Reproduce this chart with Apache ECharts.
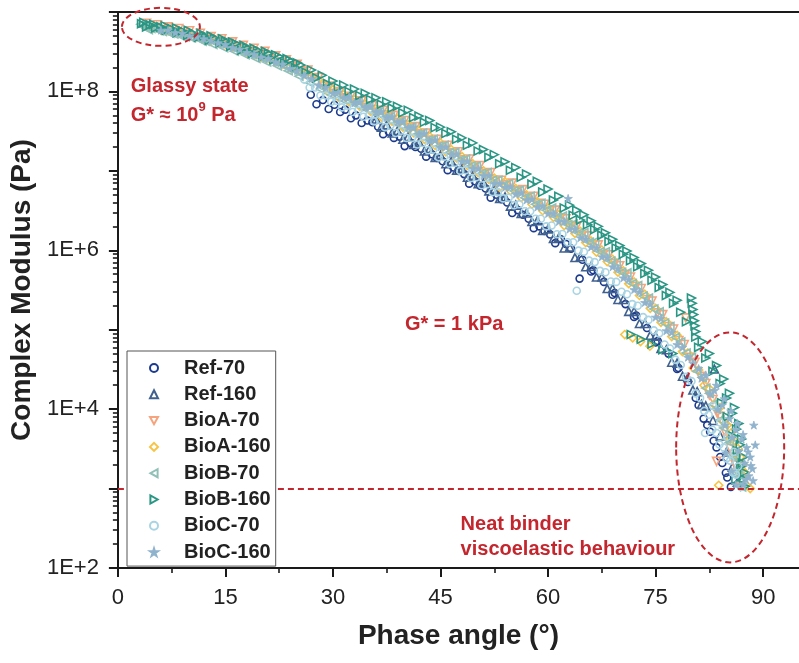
<!DOCTYPE html>
<html><head><meta charset="utf-8">
<script src="https://cdn.jsdelivr.net/npm/echarts@6/dist/echarts.min.js"></script>
<style>html,body{margin:0;padding:0;background:#fff}#c{width:799px;height:663px}</style>
</head><body><div id="c"></div>
<script>
// ---- data: [phase angle (deg), complex modulus G* (Pa)] ----
const seriesNames = ['Ref-70','Ref-160','BioA-70','BioA-160','BioB-70','BioB-160','BioC-70','BioC-160'];
const ref70 = [[26.9,9.1e7],[28.6,7.8e7],[30.2,6.8e7],[31.7,5.9e7],[33.2,5.0e7],[34.8,4.3e7],[35.5,4.1e7],[36.3,3.6e7],[37.8,3.1e7],[39.3,2.7e7],[40.8,2.25e7],[41.5,2.0e7],[42.3,1.9e7],[43.8,1.62e7],[44.5,1.45e7],[45.3,1.32e7],[46.8,1.1e7],[47.5,1.0e7],[48.3,9.1e6],[49.8,7.4e6],[50.5,6.5e6],[51.3,6.0e6],[52.8,5.0e6],[53.5,4.4e6],[54.3,4.0e6],[55.8,3.2e6],[56.5,2.8e6],[57.3,2.5e6],[58.8,2.0e6],[59.5,1.75e6],[60.3,1.58e6],[61.8,1.38e6],[62.5,1.2e6],[63.2,1.05e6],[64.4,4.4e5],[64.8,7.6e5],[66.3,5.6e5],[67.8,4.0e5],[69.3,2.9e5],[70.8,2.1e5],[72.3,1.51e5],[73.8,1.05e5],[75.3,7.2e4],[76.8,5.0e4],[78.2,3.3e4],[79.5,2.2e4],[80.6,1.38e4],[81.7,7.6e3],[82.6,5.2e3],[83.5,3.3e3],[84.3,2.1e3],[85.0,1.38e3],[85.5,1.05e3],
  [27.7,6.9e7],[29.4,6.0e7],[31,5.5e7],[32.5,4.6e7],[34,4.0e7],[37,2.9e7],[38.5,2.6e7],[40,2.05e7],[43,1.51e7],[46,1.02e7],[49,6.9e6],[52,4.6e6],[55,2.95e6],[58,1.9e6],[61,1.23e6],[66,5.4e5],[69,2.75e5],[72,1.45e5],[75,6.9e4],[78,3.2e4],[81,1.12e4],[82.2,6.3e3],[83.1,4.0e3],[84.0,2.5e3],[84.8,1.58e3]];
const ref160 = [[36,4.5e7],[37.5,3.8e7],[39,3.2e7],[40.5,2.7e7],[42,2.3e7],[43.5,1.9e7],[45,1.58e7],[46.5,1.32e7],[48,1.07e7],[49.5,8.7e6],[51,7.1e6],[52.5,5.8e6],[54,4.7e6],[55.5,3.7e6],[57,2.95e6],[58.5,2.35e6],[60,1.86e6],[61.5,1.45e6],[63,1.1e6],[64.5,8.3e5],[66,6.3e5],[67.5,4.6e5],[69,3.3e5],[70.5,2.4e5],[72,1.7e5],[73.5,1.2e5],[75,8.3e4],[76.5,5.6e4],[78,3.8e4],[79.5,2.5e4],[80.8,1.66e4],[82,1.1e4],[83.2,3.2e4],[83,7.2e3],[84,4.6e3],[84.9,2.9e3],[85.7,1.86e3],[86.4,1.2e3],
  [36.75,3.55e7],[38.25,3.0e7],[39.75,2.5e7],[41.25,2.15e7],[42.75,1.78e7],[44.25,1.48e7],[45.75,1.23e7],[47.25,1.02e7],[48.75,8.3e6],[50.25,6.9e6],[51.75,5.6e6],[53.25,4.5e6],[54.75,3.6e6],[56.25,2.9e6],[57.75,2.3e6],[59.25,1.78e6],[60.75,1.41e6],[62.25,1.07e6],[63.75,8.1e5],[65.25,6.2e5],[66.75,4.6e5],[68.25,3.3e5],[69.75,2.4e5],[71.25,1.7e5],[72.75,1.2e5],[74.25,8.5e4],[75.75,5.8e4],[77.25,3.9e4],[78.75,2.6e4],[80.2,1.74e4],[81.4,1.15e4]];
const bioA70 = [[4,7.2e8],[5.5,6.9e8],[7,6.5e8],[8.5,6.2e8],[10,5.8e8],[11.5,5.4e8],[13,4.9e8],[14.5,4.6e8],[16,4.2e8],[17.5,3.8e8],[19,3.5e8],[20.5,3.2e8],[22,2.8e8],[23.5,2.5e8],[25,2.2e8],[26.5,1.86e8],[28,1.5e8],[29.5,1.17e8],[31,1.0e8],[32.5,8.7e7],[34,7.6e7],[35.5,6.6e7],[37,5.8e7],[38.5,5.0e7],[40,4.3e7],[41.5,3.6e7],[43,3.0e7],[44.5,2.5e7],[46,2.1e7],[47.5,1.74e7],[49,1.41e7],[50.5,1.17e7],[52,9.5e6],[53.5,7.6e6],[55,7.0e6],[56.5,5.8e6],[58,4.8e6],[59.5,3.8e6],[61,3.2e6],[62.5,2.5e6],[64,2.0e6],[65.5,1.52e6],[67,1.17e6],[68.5,8.8e5],[70,6.4e5],[71.5,4.6e5],[73,3.3e5],[74.5,2.3e5],[76,1.55e5],[77.5,1.02e5],[79.2,1.41e5],[79,6.5e4],[80.5,3.9e4],[82,2.1e4],[83,1.32e4],[83.5,2.2e3],[84,8.1e3],[85,4.2e3],[85.8,2.5e3],[86.4,1.58e3],[86.8,1.07e3],
  [4.75,6.3e8],[6.25,6.0e8],[7.75,5.6e8],[9.25,5.2e8],[10.75,4.9e8],[12.25,4.6e8],[13.75,4.2e8],[15.25,3.9e8],[16.75,3.55e8],[18.25,3.2e8],[19.75,2.95e8],[21.25,2.6e8],[22.75,2.35e8],[24.25,2.1e8],[25.75,1.78e8],[27.25,1.48e8],[28.75,1.17e8],[30.25,9.5e7],[31.75,8.3e7],[33.25,7.2e7],[34.75,6.3e7],[36.25,5.5e7],[37.75,4.8e7],[39.25,4.1e7],[40.75,3.5e7],[42.25,2.95e7],[43.75,2.45e7],[45.25,2.05e7],[46.75,1.7e7],[48.25,1.38e7],[49.75,1.15e7],[51.25,9.3e6],[52.75,7.6e6],[54.25,6.7e6],[55.75,5.6e6],[57.25,4.7e6],[58.75,3.9e6],[60.25,3.1e6],[61.75,2.55e6],[63.25,2.05e6],[64.75,1.54e6],[66.25,1.18e6],[67.75,8.9e5],[69.25,6.8e5],[70.75,4.9e5],[72.25,3.5e5],[73.75,2.4e5],[75.25,1.63e5],[76.75,1.1e5],[78.25,7.3e4],[79.75,4.5e4],[81.25,2.6e4],[82.5,1.51e4],[83.6,8.9e3],[84.6,5.3e3],[85.4,3.2e3],[86.1,2.0e3]];
const bioA160 = [[5,6.3e8],[7,5.8e8],[9,5.4e8],[11,4.9e8],[13,4.4e8],[15,3.9e8],[17,3.4e8],[19,2.95e8],[21,2.6e8],[23,2.2e8],[25,1.86e8],[27,1.55e8],[28.5,1.26e8],[30,1.05e8],[31.5,9.1e7],[33,7.9e7],[34.5,6.9e7],[36,6.0e7],[37.5,5.1e7],[39,4.5e7],[40.5,3.8e7],[42,3.2e7],[43.5,2.7e7],[45,2.25e7],[46.5,1.86e7],[48,1.51e7],[49.5,1.23e7],[51,1.0e7],[52.5,8.1e6],[54,7.3e6],[55.5,6.0e6],[57,5.0e6],[58.5,4.1e6],[60,3.4e6],[61.5,2.8e6],[63,2.2e6],[64.5,1.73e6],[66,1.31e6],[67.5,1.01e6],[69,7.7e5],[70.5,5.5e5],[72,4.0e5],[73.5,2.8e5],[75,1.86e5],[76.5,1.26e5],[78,8.5e4],[70.7,8.7e4],[71.8,7.9e4],[72.9,7.1e4],[74.2,6.2e4],[79.5,5.1e4],[81,3.1e4],[82.5,1.8e4],[83.8,1.1e3],[84,1.05e4],[85,6.3e3],[86,4.0e3],[86.8,2.5e3],[87.5,1.58e3],[88.2,1.0e3],
  [6,5.9e8],[8,5.5e8],[10,5.0e8],[12,4.6e8],[14,4.1e8],[16,3.55e8],[18,3.1e8],[20,2.7e8],[22,2.35e8],[24,2.0e8],[26,1.66e8],[29.25,1.0e8],[30.75,8.5e7],[32.25,7.4e7],[33.75,6.5e7],[35.25,5.6e7],[36.75,4.8e7],[38.25,4.2e7],[39.75,3.55e7],[41.25,3.0e7],[42.75,2.5e7],[44.25,2.1e7],[45.75,1.74e7],[47.25,1.45e7],[48.75,1.17e7],[50.25,9.5e6],[51.75,7.8e6],[53.25,6.2e6],[54.75,5.6e6],[56.25,4.6e6],[57.75,3.8e6],[59.25,3.15e6],[60.75,2.6e6],[62.25,2.05e6],[63.75,1.63e6],[65.25,1.25e6],[66.75,9.5e5],[68.25,7.2e5],[69.75,5.3e5],[71.25,3.8e5],[72.75,2.7e5],[74.25,1.86e5],[75.75,1.24e5],[77.25,8.2e4],[78.75,5.3e4],[80.25,3.3e4],[81.75,2.0e4],[83.1,1.15e4],[84.3,7.1e3],[85.4,4.2e3],[86.3,2.6e3],[87.0,1.66e3],[87.6,1.12e3],
  [85.5,5.0e3],[86.5,3.2e3],[87.2,2.0e3]];
const bioB70 = [[3.5,6.6e8],[5,6.3e8],[6.5,5.9e8],[8,5.6e8],[9.5,5.2e8],[11,4.8e8],[12.5,4.5e8],[14,4.1e8],[15.5,3.7e8],[17,3.3e8],[18.5,3.0e8],[20,2.75e8],[21.5,2.45e8],[23,2.15e8],[24.5,1.86e8],[26,1.6e8],[27.5,1.32e8],[29,1.07e8],[30.5,9.5e7],[32,8.3e7],[33.5,7.4e7],[35,6.5e7],[36.5,5.6e7],[38,4.8e7],[39.5,4.2e7],[41,3.55e7],[42.5,3.0e7],[44,2.5e7],[45.5,2.1e7],[47,1.7e7],[48.5,1.41e7],[50,1.15e7],[51.5,9.5e6],[53,7.6e6],[54.5,6.9e6],[56,5.7e6],[57.5,4.8e6],[59,3.9e6],[60.5,3.4e6],[62,2.7e6],[63.5,2.15e6],[65,1.67e6],[66.5,1.29e6],[68,9.6e5],[69.5,7.1e5],[71,5.2e5],[72.5,3.6e5],[74,2.5e5],[75.5,1.68e5],[77,1.1e5],[78.5,7.0e4],[80,4.5e4],[81.5,2.5e4],[82.5,1.58e4],[83.5,1.0e4],[84.5,5.8e3],[85.3,3.8e3],[86,2.4e3],[86.6,1.5e3],[87,1.05e3],
  [4.25,6.0e8],[5.75,5.8e8],[7.25,5.4e8],[8.75,5.0e8],[10.25,4.7e8],[11.75,4.3e8],[13.25,3.9e8],[14.75,3.55e8],[16.25,3.2e8],[17.75,2.9e8],[19.25,2.6e8],[20.75,2.35e8],[22.25,2.1e8],[23.75,1.82e8],[25.25,1.55e8],[26.75,1.29e8],[28.25,1.07e8],[29.75,9.1e7],[31.25,7.9e7],[32.75,7.1e7],[34.25,6.2e7],[35.75,5.4e7],[37.25,4.7e7],[38.75,4.0e7],[40.25,3.4e7],[41.75,2.9e7],[43.25,2.45e7],[44.75,2.05e7],[46.25,1.7e7],[47.75,1.38e7],[49.25,1.15e7],[50.75,9.3e6],[52.25,7.6e6],[53.75,6.6e6],[55.25,5.6e6],[56.75,4.6e6],[58.25,3.8e6],[59.75,3.2e6],[61.25,2.6e6],[62.75,2.1e6],[64.25,1.65e6],[65.75,1.26e6],[67.25,9.6e5],[68.75,7.3e5],[70.25,5.3e5],[71.75,3.8e5],[73.25,2.65e5],[74.75,1.82e5],[76.25,1.21e5],[77.75,8.0e4],[79.25,5.1e4],[80.75,3.0e4],[82,1.84e4],[83,1.15e4],[84,7.3e3],[84.9,4.2e3],[85.7,2.6e3],[86.3,1.66e3],
  [3.2,7.0e8],[3.8,6.4e8],[4.6,6.2e8],[5.4,6.0e8],[6.2,5.7e8],[7,5.6e8],[7.8,5.3e8],[8.6,5.2e8],[9.4,4.9e8],[10.2,4.9e8],[11.4,4.5e8],[12.2,4.3e8],[13.8,4.0e8],[15,3.8e8],[16.2,3.5e8],[17.4,3.2e8],[18.8,2.9e8],[20.2,2.6e8],[21.8,2.35e8],[23.4,2.05e8],[25,1.75e8]];
const bioB160 = [[3.3,7.1e8],[4.5,6.9e8],[6,6.5e8],[7.5,6.2e8],[9,5.8e8],[10.5,5.4e8],[12,5.0e8],[13.5,4.7e8],[15,4.3e8],[16.5,4.0e8],[18,3.55e8],[19.5,3.3e8],[21,3.0e8],[22.5,2.75e8],[24,2.45e8],[25.5,2.15e8],[27,1.86e8],[28.5,1.6e8],[30,1.35e8],[31.5,1.2e8],[33,1.07e8],[34.5,9.5e7],[36,8.3e7],[37.5,7.4e7],[39,6.5e7],[40.5,5.8e7],[42,4.9e7],[43.5,4.3e7],[45,3.55e7],[46.5,3.1e7],[48,2.6e7],[49.5,2.25e7],[51,1.86e7],[52.5,1.6e7],[54,1.3e7],[55.5,1.1e7],[57,9.1e6],[58.5,7.4e6],[60,5.9e6],[61.5,4.8e6],[63,3.7e6],[64,3.2e6],[65,2.8e6],[66,2.35e6],[67,2.0e6],[68,1.66e6],[69,1.38e6],[70,1.15e6],[71,9.8e5],[72,8.1e5],[73,6.8e5],[74,5.6e5],[75,4.6e5],[76,3.7e5],[77,2.95e5],[78,2.35e5],[80.0,2.5e5],[80.1,2.15e5],[80.2,1.8e5],[80.3,1.55e5],[80.4,1.3e5],[80.5,1.12e5],[80.6,9.5e4],[80.6,8.1e4],[71.6,8.7e4],[73.0,7.6e4],[74.5,6.6e4],[76.0,5.6e4],[77.4,5.0e4],[81.5,7.1e4],[82.5,5.0e4],[83.5,3.55e4],[84.5,2.4e4],[85.3,1.58e4],[86.0,1.05e4],[86.6,6.6e3],[87.0,4.2e3],[87.3,2.5e3],[87.4,1.6e3],[87.5,1.07e3],
  [4,6.5e8],[5.25,6.3e8],[6.75,5.9e8],[8.25,5.5e8],[9.75,5.1e8],[11.25,4.8e8],[12.75,4.4e8],[14.25,4.1e8],[15.75,3.7e8],[17.25,3.3e8],[18.75,3.0e8],[20.25,2.75e8],[21.75,2.5e8],[23.25,2.3e8],[24.75,2.0e8],[26.25,1.74e8],[27.75,1.48e8],[29.25,1.26e8],[30.75,1.12e8],[32.25,1.0e8],[33.75,8.9e7],[35.25,7.9e7],[36.75,6.9e7],[38.25,6.2e7],[39.75,5.4e7],[41.25,4.7e7],[42.75,4.1e7],[44.25,3.5e7],[45.75,2.95e7],[47.25,2.5e7],[48.75,2.1e7],[50.25,1.78e7],[51.75,1.48e7],[53.25,1.23e7],[54.75,1.02e7],[56.25,8.3e6],[57.75,6.8e6],[59.25,5.4e6],[60.75,4.3e6],[62.25,3.4e6],[63.5,2.75e6],[64.5,2.4e6],[65.5,2.1e6],[66.5,1.82e6],[67.5,1.55e6],[68.5,1.29e6],[69.5,1.07e6],[70.5,8.9e5],[71.5,7.4e5],[72.5,6.2e5],[73.5,5.1e5],[74.5,4.2e5],[75.5,3.4e5],[76.5,2.7e5],[77.5,2.15e5],[78.5,1.66e5],[79.3,1.26e5],[81.0,6.0e4],[82.0,4.4e4],[83.0,3.0e4],[84.0,2.1e4],[84.9,1.38e4],[85.7,8.9e3],[86.3,5.6e3],[86.8,3.55e3],[87.1,2.1e3],[87.3,1.32e3],
  [3.6,7.4e8],[5,7.0e8],[6.6,6.7e8],[8.2,6.3e8],[9.8,5.9e8],[11.6,5.4e8],[13,5.0e8],[14.6,4.6e8],[16,4.2e8],[17.6,3.8e8],[19,3.5e8],[20.6,3.2e8],[22,2.9e8],[23.6,2.6e8],[25,2.3e8],
  [84.2,1.2e4],[85.0,8.0e3],[85.8,4.6e3],[86.4,3.0e3],[86.9,1.9e3],[86.2,1.3e3]];
const bioC70 = [[26,1.41e8],[27.5,1.12e8],[29,8.9e7],[30.5,7.6e7],[32,6.6e7],[33.5,5.8e7],[35,5.0e7],[36.5,4.4e7],[38,3.7e7],[39.5,3.2e7],[41,2.6e7],[42.5,2.25e7],[44,1.86e7],[45.5,1.51e7],[47,1.26e7],[48.5,1.02e7],[50,8.3e6],[51.5,6.8e6],[53,5.4e6],[54.5,4.6e6],[56,3.8e6],[57.5,3.1e6],[59,2.5e6],[60.5,2.05e6],[62,1.6e6],[64,3.1e5],[63.5,1.26e6],[65,9.6e5],[66.5,7.1e5],[68,5.3e5],[69.5,4.0e5],[71,2.8e5],[72.5,2.0e5],[74,1.33e5],[75.5,9.0e4],[77,5.8e4],[78.5,3.6e4],[80,2.25e4],[81.9,5.0e3],[81.2,1.38e4],[82.4,8.5e3],[83.5,5.0e3],[84.5,3.3e3],[85.4,2.25e3],[86.2,1.5e3],[86.9,1.05e3],
  [26.75,1.12e8],[28.25,8.9e7],[29.75,7.4e7],[31.25,6.3e7],[32.75,5.5e7],[34.25,4.8e7],[35.75,4.2e7],[37.25,3.55e7],[38.75,3.0e7],[40.25,2.6e7],[41.75,2.15e7],[43.25,1.82e7],[44.75,1.48e7],[46.25,1.23e7],[47.75,1.0e7],[49.25,8.1e6],[50.75,6.6e6],[52.25,5.4e6],[53.75,4.5e6],[55.25,3.7e6],[56.75,3.1e6],[58.25,2.5e6],[59.75,2.0e6],[61.25,1.59e6],[62.75,1.26e6],[64.25,9.9e5],[65.75,7.4e5],[67.25,5.5e5],[68.75,4.05e5],[70.25,3.0e5],[71.75,2.1e5],[73.25,1.44e5],[74.75,9.8e4],[76.25,6.5e4],[77.75,4.2e4],[79.25,2.55e4],[80.6,1.58e4],[81.8,9.5e3],[82.9,5.5e3],[83.9,3.6e3],[84.9,2.4e3],[85.8,1.58e3],
  [83.0,1.1e4],[84.0,6.8e3],[85.0,4.5e3],[85.9,2.9e3],[86.5,1.9e3]];
const bioC160 = [[6,5.9e8],[8,5.5e8],[10,5.0e8],[12,4.6e8],[14,4.1e8],[16,3.55e8],[18,3.1e8],[20,2.7e8],[22,2.35e8],[24,1.95e8],[26,1.6e8],[28,1.2e8],[30,9.5e7],[31.5,8.3e7],[33,7.2e7],[34.5,6.3e7],[36,5.5e7],[37.5,4.7e7],[39,4.1e7],[40.5,3.5e7],[42,2.9e7],[43.5,2.4e7],[45,2.0e7],[46.5,1.62e7],[48,1.32e7],[49.5,1.07e7],[51,8.7e6],[52.5,6.9e6],[54,6.2e6],[55.5,5.1e6],[57,4.3e6],[58.5,3.5e6],[60,2.9e6],[61.5,2.3e6],[62.8,4.5e6],[63,1.85e6],[64.5,1.44e6],[66,1.1e6],[67.5,8.3e5],[69,6.2e5],[70.5,4.5e5],[72,3.2e5],[73.5,2.2e5],[75,1.44e5],[76.5,9.7e4],[78,6.5e4],[79.5,4.5e4],[81,3.25e4],[82,2.7e4],[83.2,1.72e4],[84.3,1.13e4],[85.3,7.6e3],[86.2,5.5e3],[87.0,4.2e3],[87.7,3.3e3],[88.2,2.5e3],[88.5,1.78e3],[88.6,1.26e3],[84.8,2.8e3],[85.6,1.66e3],[86.2,1.12e3],
  [7,5.9e8],[9,5.4e8],[11,4.9e8],[13,4.4e8],[15,3.9e8],[17,3.4e8],[19,2.95e8],[21,2.6e8],[23,2.2e8],[25,1.82e8],[27,1.45e8],[29,1.12e8],[30.75,9.8e7],[32.25,8.5e7],[33.75,7.4e7],[35.25,6.5e7],[36.75,5.6e7],[38.25,4.8e7],[39.75,4.2e7],[41.25,3.55e7],[42.75,2.95e7],[44.25,2.45e7],[45.75,2.0e7],[47.25,1.62e7],[48.75,1.32e7],[50.25,1.07e7],[51.75,8.7e6],[53.25,6.9e6],[54.75,6.3e6],[56.25,5.3e6],[57.75,4.4e6],[59.25,3.6e6],[60.75,2.9e6],[62.25,2.3e6],[63.75,1.84e6],[65.25,1.39e6],[66.75,1.07e6],[68.25,8.1e5],[69.75,5.9e5],[71.25,4.3e5],[72.75,3.0e5],[74.25,2.1e5],[75.75,1.39e5],[77.25,9.3e4],[78.75,6.0e4],[80.2,3.8e4],[81.4,2.45e4],[82.6,1.56e4],[83.7,1.0e4],[84.7,6.3e3],[85.7,4.4e3],[86.6,3.0e3],[87.4,2.1e3],[88.0,1.45e3],[87.2,1.12e3],[88.9,3.55e3],[88.7,6.3e3],
  [83.5,2.0e4],[84.6,1.35e4],[85.5,9.5e3],[86.4,6.6e3],[87.2,4.8e3],[87.9,2.9e3],[88.3,1.95e3],[87.6,1.3e3]];
const seriesData = [ref70, ref160, bioA70, bioA160, bioB70, bioB160, bioC70, bioC160];

// ---- axes ----
const xMin = 0, xMax = 95;
const xMajorTicks = [0,15,30,45,60,75,90];
const xMinorTicks = [7.5,22.5,37.5,52.5,67.5,82.5];
const yMin = 1e2, yMax = 1e9;
const yMajorTicks = [1e2,1e3,1e4,1e5,1e6,1e7,1e8,1e9];
const yLabelTicks = [1e2,1e4,1e6,1e8];
const yMinorMantissas = [2,3,4,5,6,7,8,9];
const yMinorTicks = [];
for (let e = 2; e < 9; e++) for (const m of yMinorMantissas) yMinorTicks.push(m * Math.pow(10, e));
const refLineG = 1000;

// ---- styles ----
const colors = ['#1d3b8e','#40618f','#f5a47e','#f8c343','#90c0b6','#2a9684','#a9d4e3','#8fb2cd'];
const STAR = 'path://M50,0 L61,35 L98,35 L68,57 L79,91 L50,70 L21,91 L32,57 L2,35 L39,35 Z';
const symbols = ['circle','triangle','triangle','diamond','triangle','triangle','circle', STAR];
const rotations = [0,0,180,0,90,-90,0,0];
const legendIcons = ['circle','triangle','path://M0,0 L10,0 L5,9 Z','diamond',
  'path://M9,0 L9,10 L0,5 Z','path://M0,0 L0,10 L9,5 Z','circle', STAR];
const sizes = [7,8,8,8,8,8,7,8.5];
const red = '#c4262e';
const FONT = '"Liberation Sans", Arial, sans-serif';

const chart = echarts.init(document.getElementById('c'), null, {renderer:'canvas'});
const series = seriesNames.map((n,i) => {
  const filled = i === 7;
  const s = {
    name: n, type: 'scatter', data: seriesData[i], symbol: symbols[i], symbolSize: sizes[i],
    symbolRotate: rotations[i], symbolKeepAspect: true, xAxisIndex: 0, yAxisIndex: 0, z: 3 + i*0.01,
    itemStyle: filled ? {color: colors[i], borderColor: colors[i], borderWidth: 0.8, opacity: 1}
                      : {color: 'rgba(255,255,255,0)', borderColor: colors[i], borderWidth: 1.6, opacity: 1},
    emphasis: {disabled: true}, animation: false
  };
  if (i === 0) {
    s.markLine = {silent: true, symbol: ['none','none'], label: {show:false}, animation:false,
      lineStyle: {color: red, type: [6,4], width: 1.8}, data: [{yAxis: refLineG}]};
  }
  return s;
});

const axisColor = '#1a1a1a';
chart.setOption({
  animation: false,
  backgroundColor: '#fff',
  textStyle: {fontFamily: FONT},
  grid: {left: 117, top: 12, right: -10, bottom: 95, containLabel: false},
  legend: {
    data: seriesNames.map((n,i) => ({name: n, icon: legendIcons[i]})),
    orient: 'vertical', left: 127, top: 351,
    padding: [7, 5, 4, 22], itemWidth: 8, itemHeight: 8, itemGap: 6.3, symbolKeepAspect: true,
    backgroundColor: '#fff', borderColor: '#555', borderWidth: 1, borderRadius: 0,
    textStyle: {fontSize: 20, fontWeight: 'bold', color: '#222', fontFamily: FONT, lineHeight: 20, padding: [0,0,0,21]},
    selectedMode: false, z: 10
  },
  xAxis: [
    {type: 'value', min: xMin, max: xMax, position: 'bottom',
     name: 'Phase angle (°)', nameLocation: 'middle', nameGap: 54,
     nameTextStyle: {fontSize: 28, fontWeight: 'bold', color: '#222', fontFamily: FONT},
     axisLine: {show: true, onZero: false, lineStyle: {color: axisColor, width: 2}},
     axisTick: {show: true, inside: false, length: 9, lineStyle: {color: axisColor, width: 2}, customValues: xMajorTicks},
     axisLabel: {show: true, margin: 19, fontSize: 22, color: '#222', fontFamily: FONT, customValues: xMajorTicks},
     splitLine: {show: false}, minorTick: {show: false}},
    {type: 'value', min: xMin, max: xMax, position: 'bottom',
     axisLine: {show: false, onZero: false}, axisLabel: {show: false},
     axisTick: {show: true, inside: false, length: 5, lineStyle: {color: axisColor, width: 1.6}, customValues: xMinorTicks},
     splitLine: {show: false}},
    {type: 'value', min: xMin, max: xMax, position: 'top',
     axisLine: {show: true, onZero: false, lineStyle: {color: axisColor, width: 2}},
     axisTick: {show: false}, axisLabel: {show: false}, splitLine: {show: false}}
  ],
  yAxis: [
    {type: 'log', logBase: 10, min: yMin, max: yMax, position: 'left',
     name: 'Complex Modulus (Pa)', nameLocation: 'middle', nameGap: 76, nameRotate: 90,
     nameTextStyle: {fontSize: 28, fontWeight: 'bold', color: '#222', fontFamily: FONT},
     axisLine: {show: true, onZero: false, lineStyle: {color: axisColor, width: 2}},
     axisTick: {show: true, inside: false, length: 9, lineStyle: {color: axisColor, width: 2}, customValues: yMajorTicks},
     axisLabel: {show: true, margin: 19, fontSize: 22, color: '#222', fontFamily: FONT, customValues: yLabelTicks,
       formatter: v => '1E+' + Math.round(Math.log10(v))},
     splitLine: {show: false}},
    {type: 'log', logBase: 10, min: yMin, max: yMax, position: 'left',
     axisLine: {show: false, onZero: false}, axisLabel: {show: false},
     axisTick: {show: true, inside: false, length: 5, lineStyle: {color: axisColor, width: 1.6}, customValues: yMinorTicks},
     splitLine: {show: false}}
  ],
  series: series
});

// ---- annotations anchored in data coordinates ----
const glassyEllipse = {x: 6.0, y: 6.5e8, rx: 39, ry: 19};
const neatEllipse = {x: 85.4, y: 3.3e3, rx: 54, ry: 115};
const glassyText = {x: 1.8, y: 1.17e8};
const glassyText2 = {x: 1.8, y: 5.3e7};
const kpaText = {x: 46.9, y: 1.16e5};
const neatText = {x: 47.8, y: 352};
const neatText2 = {x: 47.8, y: 171};
const px = p => chart.convertToPixel({xAxisIndex: 0, yAxisIndex: 0}, [p.x, p.y]);
const e1 = px(glassyEllipse), e2 = px(neatEllipse);
const t1 = px(glassyText), t2 = px(glassyText2), t3 = px(kpaText), t4 = px(neatText), t5 = px(neatText2);
const dash = {fill: 'none', stroke: red, lineWidth: 2, lineDash: [6,4]};
const tfont = {fontSize: 20, fontWeight: 'bold', fill: red, fontFamily: FONT};
chart.setOption({graphic: [
  {type: 'ellipse', z: 20, silent: true, shape: {cx: e1[0], cy: e1[1], rx: glassyEllipse.rx, ry: glassyEllipse.ry}, style: dash},
  {type: 'ellipse', z: 20, silent: true, shape: {cx: e2[0], cy: e2[1], rx: neatEllipse.rx, ry: neatEllipse.ry}, style: dash},
  {type: 'text', z: 20, silent: true, x: t1[0], y: t1[1], style: Object.assign({text: 'Glassy state', verticalAlign: 'middle'}, tfont)},
  {type: 'text', z: 20, silent: true, x: t2[0], y: t2[1], style: {
     text: '{a|G* ≈ 10}{s|9}{a| Pa}', verticalAlign: 'middle', fontFamily: FONT,
     rich: {a: {fontSize: 20, fontWeight: 'bold', fill: red, fontFamily: FONT, lineHeight: 24, verticalAlign: 'bottom'},
            s: {fontSize: 13, fontWeight: 'bold', fill: red, fontFamily: FONT, lineHeight: 24, verticalAlign: 'top'}}}},
  {type: 'text', z: 20, silent: true, x: t3[0], y: t3[1], style: Object.assign({text: 'G* = 1 kPa', align: 'center', verticalAlign: 'middle'}, tfont)},
  {type: 'text', z: 20, silent: true, x: t4[0], y: t4[1], style: Object.assign({text: 'Neat binder', verticalAlign: 'middle'}, tfont)},
  {type: 'text', z: 20, silent: true, x: t5[0], y: t5[1], style: Object.assign({text: 'viscoelastic behaviour', verticalAlign: 'middle'}, tfont)}
]});
</script></body></html>
